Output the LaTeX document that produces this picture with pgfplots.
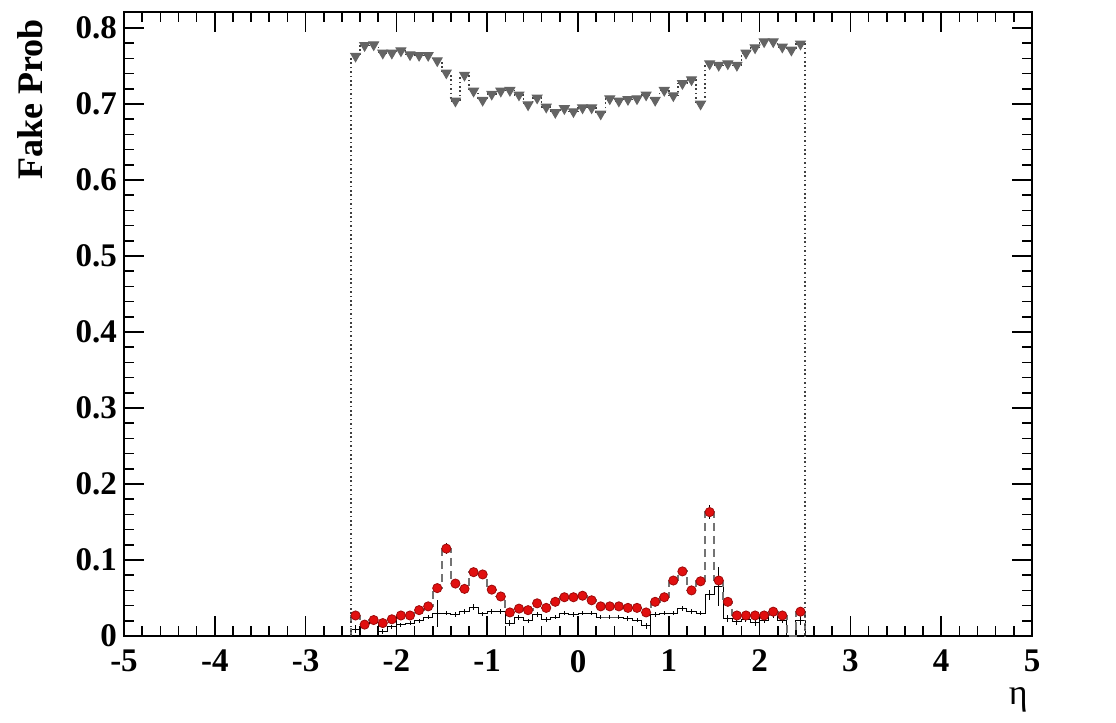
\documentclass[border=0pt]{standalone}
\usepackage{pgfplots}
\pgfplotsset{compat=1.18}
\usepackage{pgfplotstable}
\usepackage{fontspec}
\setmainfont{Liberation Serif}

% lo = lower bin edge; first and last rows close the histogram outline at zero
\pgfplotstableread{
lo    fake  efake red   ered  black  eblack
-2.5  0     0     0     0     0      0
-2.5  0.763 0.004 0.027 0.003 0.009  0.005
-2.4  0.777 0.004 0.015 0.003 0.017  0.003
-2.3  0.778 0.004 0.021 0.003 0.018  0.003
-2.2  0.767 0.004 0.017 0.003 0.006  0.003
-2.1  0.767 0.004 0.022 0.003 0.012  0.003
-2.0  0.770 0.004 0.027 0.003 0.0145 0.003
-1.9  0.765 0.004 0.027 0.003 0.017  0.003
-1.8  0.764 0.004 0.034 0.003 0.020  0.003
-1.7  0.764 0.004 0.039 0.003 0.025  0.003
-1.6  0.757 0.004 0.063 0.003 0.030  0.018
-1.5  0.741 0.004 0.115 0.007 0.030  0.003
-1.4  0.704 0.004 0.069 0.003 0.028  0.003
-1.3  0.738 0.004 0.062 0.003 0.0325 0.003
-1.2  0.717 0.004 0.084 0.004 0.038  0.004
-1.1  0.705 0.004 0.081 0.004 0.029  0.003
-1.0  0.713 0.004 0.061 0.003 0.032  0.003
-0.9  0.717 0.004 0.052 0.003 0.032  0.003
-0.8  0.718 0.004 0.031 0.003 0.017  0.004
-0.7  0.712 0.004 0.036 0.003 0.024  0.003
-0.6  0.699 0.004 0.034 0.003 0.020  0.003
-0.5  0.708 0.004 0.043 0.003 0.028  0.003
-0.4  0.696 0.004 0.037 0.003 0.022  0.003
-0.3  0.689 0.004 0.045 0.003 0.025  0.003
-0.2  0.694 0.004 0.051 0.003 0.030  0.003
-0.1  0.690 0.004 0.051 0.003 0.028  0.003
0.0   0.695 0.004 0.053 0.003 0.030  0.003
0.1   0.695 0.004 0.047 0.003 0.030  0.003
0.2   0.687 0.004 0.039 0.003 0.025  0.003
0.3   0.707 0.004 0.039 0.003 0.025  0.003
0.4   0.704 0.004 0.039 0.003 0.025  0.003
0.5   0.706 0.004 0.037 0.003 0.023  0.003
0.6   0.707 0.004 0.037 0.003 0.021  0.003
0.7   0.712 0.004 0.031 0.003 0.0136 0.004
0.8   0.705 0.004 0.045 0.003 0.028  0.003
0.9   0.718 0.004 0.051 0.003 0.030  0.003
1.0   0.711 0.004 0.073 0.005 0.030  0.003
1.1   0.727 0.004 0.085 0.005 0.036  0.003
1.2   0.732 0.004 0.060 0.004 0.032  0.003
1.3   0.700 0.004 0.072 0.004 0.030  0.003
1.4   0.753 0.004 0.163 0.009 0.054  0.006
1.5   0.751 0.004 0.073 0.005 0.065  0.026
1.6   0.753 0.004 0.045 0.004 0.023  0.004
1.7   0.751 0.004 0.027 0.003 0.019  0.004
1.8   0.767 0.004 0.027 0.003 0.022  0.004
1.9   0.774 0.004 0.027 0.003 0.0175 0.004
2.0   0.782 0.004 0.027 0.003 0.021  0.004
2.1   0.782 0.004 0.032 0.003 0.028  0.004
2.2   0.775 0.004 0.027 0.003 0.021  0.004
2.3   0.771 0.004 0     0     0      0
2.4   0.779 0.004 0.032 0.003 0.021  0.006
2.5   0.779 0.004 0.032 0.003 0.021  0.006
2.5   0     0     0     0     0      0
}\bins

\definecolor{fakegray}{RGB}{100,100,100}
\definecolor{dashgray}{RGB}{115,115,115}
\definecolor{rootred}{RGB}{225,15,15}

\begin{document}
\begin{tikzpicture}
\begin{axis}[
  scale only axis, width=454pt, height=312pt,
  xmin=-5, xmax=5, ymin=0, ymax=0.821,
  xtick={-5,-4,-3,-2,-1,0,1,2,3,4,5},
  xticklabels={-5,-4,-3,-2,-1,0,1,2,3,4,5},
  ytick={0,0.1,0.2,0.3,0.4,0.5,0.6,0.7,0.8},
  yticklabels={0,0.1,0.2,0.3,0.4,0.5,0.6,0.7,0.8},
  minor x tick num=4, minor y tick num=4,
  tick align=inside, tick pos=both,
  major tick length=10pt, minor tick length=5pt,
  every tick/.style={black, line width=0.8pt},
  axis line style={line width=1pt},
  ticklabel style={font=\bfseries\fontsize{16.5}{18}\selectfont},
  xticklabel style={yshift=-3.5pt},
  xlabel={η},
  xlabel style={at={(rel axis cs:0.985,0)}, anchor=north, yshift=-22pt, font=\fontsize{18}{20}\selectfont},
  ylabel={Fake Prob},
  ylabel style={at={(axis description cs:-0.1035,1)}, anchor=east, font=\bfseries\fontsize{18}{20}\selectfont},
]
% black histogram outline
\addplot[black, line width=0.5pt, const plot, mark=none] table[x=lo, y=black] {\bins};
\addplot[draw=none, mark=none,
  skip coords between index={51}{52}, restrict y to domain=0.0001:1,
  error bars/.cd, y dir=both, y explicit, error mark=none,
  error bar style={draw=black, line width=0.5pt}]
  table[x expr=\thisrow{lo}+0.05, y=black, y error=eblack] {\bins};
% red series
\addplot[dashgray, line width=0.9pt, dash pattern=on 4pt off 2.5pt, const plot, mark=none] table[x=lo, y=red] {\bins};
\addplot[black, line width=0.5pt, only marks, mark=*, mark size=2.3pt,
  mark options={fill=rootred, draw=rootred!70!black, line width=0.4pt},
  skip coords between index={51}{52}, restrict y to domain=0.0001:1,
  error bars/.cd, y dir=both, y explicit, error mark=none]
  table[x expr=\thisrow{lo}+0.05, y=red, y error=ered] {\bins};
% gray series
\addplot[black!75, line width=0.7pt, dash pattern=on 0.8pt off 1.4pt, const plot, mark=none] table[x=lo, y=fake] {\bins};
\addplot[fakegray, line width=0.5pt, only marks, mark=triangle*, mark size=2.8pt,
  mark options={rotate=180, fill=fakegray, draw=fakegray},
  skip coords between index={51}{52}, restrict y to domain=0.0001:1,
  error bars/.cd, y dir=both, y explicit, error mark=none]
  table[x expr=\thisrow{lo}+0.05, y=fake, y error=efake] {\bins};
\end{axis}
\path ([shift={(-62pt,-43pt)}]current axis.south west) rectangle ([shift={(42pt,6pt)}]current axis.north east);
\end{tikzpicture}
\end{document}
